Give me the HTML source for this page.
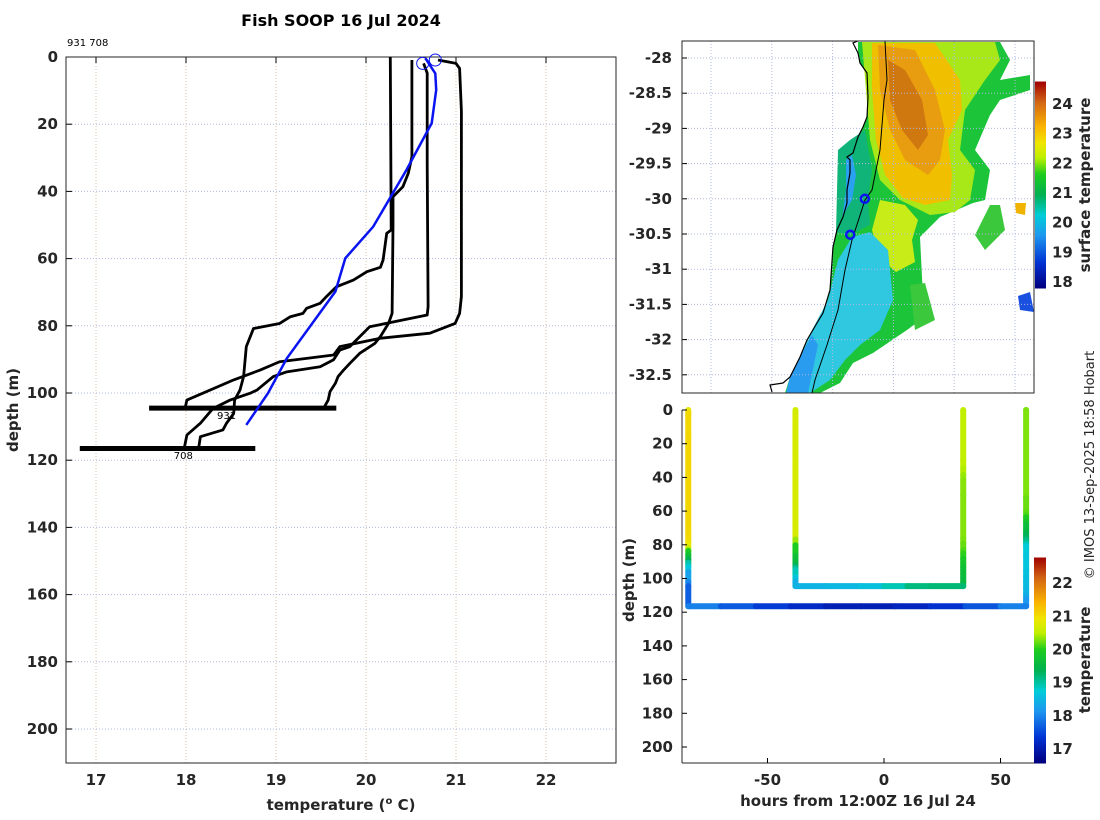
<!DOCTYPE html>
<html><head><meta charset="utf-8">
<style>
html,body{margin:0;padding:0;background:#fff;}
svg{display:block;font-family:"DejaVu Sans","Liberation Sans",sans-serif;}
.tk{font-size:15px;font-weight:bold;fill:#262626;}
.lb{font-size:15px;font-weight:bold;fill:#262626;}
</style></head>
<body>
<svg id="fig" width="1100" height="820" viewBox="0 0 1100 820" xmlns="http://www.w3.org/2000/svg">
<text x="341" y="26" text-anchor="middle" style="font-size:16px;font-weight:bold;fill:#000">Fish SOOP 16 Jul 2024</text>
<text x="67" y="46" style="font-size:10px;fill:#000">931 708</text>
<g id="left"></g>
<g id="map"></g>
<g id="bot"></g>
<text transform="translate(1094,465) rotate(-90)" text-anchor="middle" style="font-size:13px;fill:#262626">© IMOS 13-Sep-2025 18:58 Hobart</text>
</svg>
<script>
// ---- profile data (temperature degC, depth m) ----
const profA_T=[20.27,20.28,20.23,20.19,20.16,20.01,19.86,19.67,19.56,19.49,19.34,19.30,19.16,19.04,18.75,18.67,18.64,18.60,18.54,18.53,18.45,18.41,18.16,18.14];
const profA_D=[0,51.5,52.5,60.4,62.6,63.9,66.4,68.4,71.3,73.3,74.8,76.3,77.3,79.3,80.8,86.2,95.1,99.1,102.1,106.1,109.0,111.0,113.0,116.5];
const profB_T=[20.51,20.51,20.47,20.41,20.30,20.30,20.29,20.25,20.16,20.10,19.93,19.82,19.75,19.69,19.66,19.60,19.58,19.53];
const profB_D=[0.9,29.7,34.6,38.6,41.6,50.5,76.3,79.3,83.2,85.2,88.2,91.2,93.2,95.1,97.1,99.6,102.1,104.5];
const profC_T=[20.64,20.68,20.68,20.69,20.68,20.04,19.82,19.71,19.64,19.49,19.12,18.97,18.79,18.71,18.49,18.30,18.16,18.01,17.98];
const profC_D=[1.9,4.8,31.6,74.3,76.8,80.3,86.2,87.2,90.1,92.2,93.7,95.1,99.1,100.1,102.1,104.6,109.0,112.5,116.5];
const profD_T=[20.80,21.00,21.04,21.06,21.06,21.04,20.99,20.71,20.16,19.71,19.64,19.04,18.82,18.53,18.01,17.99];
const profD_D=[0.9,1.9,3.4,16,71.3,76.3,79.3,82.2,83.7,86.2,88.7,90.7,93.2,96.1,102.1,104.5];
const blue_T=[20.66,20.77,20.78,20.73,20.45,20.08,19.77,19.66,19.12,18.91,18.67];
const blue_D=[0.4,4.9,9.8,19.7,33.6,50.5,59.9,69.8,89.7,100.1,109.5];
const circle_T=[20.63,20.77];
const circle_D=[1.9,0.9];
const smear_D=[104.5,116.5];
const smear_Tmin=[17.59,16.82];
const smear_Tmax=[19.67,18.77];
const castLabels=["931","708"];
const castLabel_T=[18.45,17.97];
const castLabel_D=[106.5,118.5];
const xTicksL=[17,18,19,20,21,22];
const yTicks=[0,20,40,60,80,100,120,140,160,180,200];
// ---- section data ----
const castHours=[-84,-38,34,61];
const castOrder=["D","C","B","A"];
const castEnd=[116.5,104.5,104.5,116.5];
const tow1_H=[-84,-70,-55,-40,-25,-10,5,20,35,50,61];
const tow1_T=[18.1,17.8,17.5,17.3,17.1,17.0,17.1,17.2,17.4,17.8,18.1];
const tow1_D=116.5;
const tow2_H=[-38,-25,-10,0,10,20,34];
const tow2_T=[18.4,18.5,18.5,18.7,19.1,19.2,19.2];
const tow2_D=104.5;
const xTicksB=[-50,0,50];
const cbTicksB=[17,18,19,20,21,22];
// ---- map data ----
const latTicks=[-28,-28.5,-29,-29.5,-30,-30.5,-31,-31.5,-32,-32.5];
const lonTicks=[151,152,153,154,155,156];
const stn_lon=[153.53,153.29];
const stn_lat=[-30.0,-30.51];
const cbTicksM=[18,19,20,21,22,23,24];

const NS="http://www.w3.org/2000/svg";
function el(parent,tag,attrs,txt){const e=document.createElementNS(NS,tag);for(const k in attrs)e.setAttribute(k,attrs[k]);if(txt!==undefined)e.textContent=txt;parent.appendChild(e);return e;}
function cmap(v){
  const st=[[0,[0,0,128]],[0.12,[0,50,210]],[0.25,[30,150,240]],[0.35,[0,205,215]],[0.45,[0,176,80]],[0.55,[30,205,30]],[0.63,[190,240,0]],[0.70,[240,230,0]],[0.78,[250,180,0]],[0.9,[210,100,20]],[1,[160,0,0]]];
  v=Math.max(0,Math.min(1,v));
  for(let i=1;i<st.length;i++){if(v<=st[i][0]){const a=st[i-1],b=st[i],f=(v-a[0])/(b[0]-a[0]);const c=a[1].map((x,j)=>Math.round(x+(b[1][j]-x)*f));return `rgb(${c[0]},${c[1]},${c[2]})`;}}
  return "rgb(160,0,0)";
}
// ================= LEFT PLOT =================
const L=document.getElementById('left');
const xL=t=>96+(t-17)*90, yL=d=>57+d*3.36;
for(const t of xTicksL){
  const g=el(L,'line',{x1:xL(t),x2:xL(t),y1:57,y2:763,stroke:'#d8c0a8','stroke-dasharray':'1,2','stroke-width':1});
  
  
  const tk=el(L,'line',{x1:xL(t),x2:xL(t),y1:57,y2:63,stroke:'#000'});
  
  
  const lb=el(L,'text',{x:xL(t),y:785,'text-anchor':'middle',class:'tk'},String(t));
  
  
}
for(const d of yTicks){
  const g=el(L,'line',{x1:66,x2:616,y1:yL(d),y2:yL(d),stroke:'#b0b8e0','stroke-dasharray':'1,2','stroke-width':1});
  
  
  const tk=el(L,'line',{x1:66,x2:72,y1:yL(d),y2:yL(d),stroke:'#000'});
  
  
  const lb=el(L,'text',{x:58,y:yL(d)+5,'text-anchor':'end',class:'tk'},String(d));
  
  
}
const bx=el(L,'rect',{x:66,y:57,width:550,height:706,fill:'none',stroke:'#262626','stroke-width':1});


const profiles={A:[profA_T,profA_D],B:[profB_T,profB_D],C:[profC_T,profC_D],D:[profD_T,profD_D]};
for(const k in profiles){
  const [T,D]=profiles[k];
  const p=el(L,'polyline',{points:T.map((t,i)=>xL(t)+','+yL(D[i])).join(' '),fill:'none',stroke:'#000','stroke-width':2.8,'stroke-linejoin':'round'});
  
  
}
for(let i=0;i<smear_D.length;i++){
  const s=el(L,'line',{x1:xL(smear_Tmin[i]),x2:xL(smear_Tmax[i]),y1:yL(smear_D[i]),y2:yL(smear_D[i]),stroke:'#000','stroke-width':5});
  
  
  const t=el(L,'text',{x:xL(castLabel_T[i]),y:yL(castLabel_D[i])+4,'text-anchor':'middle',style:'font-size:10px;fill:#000'},castLabels[i]);
  
  
}
const bl=el(L,'polyline',{points:blue_T.map((t,i)=>xL(t)+','+yL(blue_D[i])).join(' '),fill:'none',stroke:'#0a14f0','stroke-width':2.5});


for(let i=0;i<circle_T.length;i++){
  const c=el(L,'circle',{cx:xL(circle_T[i]),cy:yL(circle_D[i]),r:6,fill:'none',stroke:'#0a14f0','stroke-width':1});
  
  
}
const xt=el(L,'text',{x:341,y:810,'text-anchor':'middle',class:'lb'});


xt.innerHTML='temperature (<tspan dy="-6" style="font-size:10px">o</tspan><tspan dy="6"> C)</tspan>';
const yt=el(L,'text',{transform:'translate(18,410) rotate(-90)','text-anchor':'middle',class:'lb'},'depth (m)');



// ================= MAP =================
const M=document.getElementById('map');
const xM=lo=>711+(lo-151)*60.8, yM=la=>58+(-28-la)*70.4;
for(const lo of lonTicks){
  const lb=el(M,'text',{x:xM(lo),y:424,'text-anchor':'middle',class:'tk'},String(lo));
  
  
}
const sstShapes=[
 ['#1cc43a','858,42 1000,42 1010,60 1000,80 1030,75 1030,90 1000,100 990,115 975,150 990,170 985,200 973,203 940,217 920,237 923,297 930,313 907,330 873,353 853,363 840,383 820,393 785,393 790,377 800,357 807,340 817,323 823,313 830,290 833,247 837,230 843,217 847,203 847,190 850,173 850,160 853,153 858,137 863,127 867,117 868,97 867,73 860,63 858,53'],
 ['#a8e818','862,42 995,42 1000,60 985,80 965,110 960,150 975,170 970,200 955,212 930,215 900,200 880,180 870,140 866,90'],
 ['#f0c000','872,43 935,43 960,80 962,110 948,140 952,175 950,200 925,205 903,198 885,175 876,140 872,90'],
 ['#e89c10','878,45 915,50 935,90 945,130 940,160 928,175 905,160 890,130 880,90'],
 ['#d07810','888,60 905,70 922,100 928,135 918,150 902,130 890,100'],
 ['#10b478','838,150 850,140 865,130 872,170 868,200 870,225 850,235 836,232'],
 ['#c8ec18','880,200 905,205 918,220 912,240 915,262 896,272 880,258 872,230'],
 ['#30c8e0','852,237 870,232 888,250 893,300 880,330 860,345 845,360 830,380 810,393 792,393 800,357 812,330 828,300 838,260'],
 ['#2aa0f0','846,160 852,155 856,175 852,200 846,210 842,220 846,190'],
 ['#2a9cf0','800,357 812,335 818,345 808,393 786,393 790,377'],
 ['#3cc83c','990,205 1000,205 1005,230 985,250 975,235'],
 ['#3cc83c','910,285 925,283 935,320 915,330'],
 ['#1a50e0','1018,296 1030,292 1034,312 1020,310'],
 ['#f0b400','1015,203 1026,203 1025,215 1016,213']
];
for(const [c,pts] of sstShapes){
  const p=el(M,'polygon',{points:pts,fill:c});
  
  
}
for(const la of latTicks){
  const g=el(M,'line',{x1:682,x2:1034,y1:yM(la),y2:yM(la),stroke:'#b0b8e0','stroke-dasharray':'1,2'});
  
  
  const lb=el(M,'text',{x:672,y:yM(la)+5,'text-anchor':'end',class:'tk'},String(la));
  
  
  const tk=el(M,'line',{x1:682,x2:687,y1:yM(la),y2:yM(la),stroke:'#000'});
  
  
}
for(const lo of lonTicks){
  const g=el(M,'line',{x1:xM(lo),x2:xM(lo),y1:41,y2:393,stroke:'#b0b8e0','stroke-dasharray':'1,2'});
  
  
}
const coast=el(M,'polyline',{points:'858,41 853,43 858,53 860,63 867,73 868,97 867,117 863,127 858,137 853,153 847,157 850,160 850,173 847,190 847,203 843,217 837,230 833,247 830,290 823,313 817,323 807,340 800,357 790,377 783,383 770,385 772,392',fill:'none',stroke:'#000','stroke-width':1.2});


const iso=el(M,'polyline',{points:'885,41 887,80 884,100 880,150 872,190 865,200 852,240 845,270 838,310 827,345 815,380 812,393',fill:'none',stroke:'#000','stroke-width':1});


for(let i=0;i<stn_lon.length;i++){
  const c=el(M,'circle',{cx:xM(stn_lon[i]),cy:yM(stn_lat[i]),r:4,fill:'none',stroke:'#0a14f0','stroke-width':2.5});
  
  
}
const mf=el(M,'rect',{x:682,y:41,width:352,height:352,fill:'none',stroke:'#262626'});


const cbM0=17.8,cbM1=24.74,ycbM=v=>288-(v-cbM0)*(206/(cbM1-cbM0));
for(let i=0;i<103;i++){
  const v=cbM0+(cbM1-cbM0)*i/103;
  const r=el(M,'rect',{x:1035,y:ycbM(v+(cbM1-cbM0)/103)-0.5,width:11,height:3,fill:cmap(i/103)});
  
  
}
for(const v of cbTicksM){
  const lb=el(M,'text',{x:1052,y:ycbM(v)+5,class:'tk'},String(v));
  
  
}
const ml=el(M,'text',{transform:'translate(1090,185) rotate(-90)','text-anchor':'middle',class:'lb'},'surface temperature');



// ================= SECTION =================
const B=document.getElementById('bot');
const xB=h=>884+h*2.33, yB=d=>410+d*1.685;
const bg=el(B,'rect',{x:677,y:409,width:358,height:355,fill:'#fff'});


const cb0=16.58,cb1=22.76,col=v=>cmap((v-cb0)/(cb1-cb0));
function seg(x1,y1,x2,y2,v,name){
  const s=el(B,'line',{x1:x1,y1:y1,x2:x2,y2:y2,stroke:col(v),'stroke-width':6,'stroke-linecap':'round'});
  
  
}
for(let c=0;c<castHours.length;c++){
  const [T,D]=profiles[castOrder[c]];
  const x=xB(castHours[c]);
  seg(x,yB(0),x,yB(D[0]),T[0],'cast-segment');
  for(let i=0;i<T.length-1;i++){
    if(D[i]>=castEnd[c]) break;
    seg(x,yB(D[i]),x,yB(Math.min(D[i+1],castEnd[c])),(T[i]+T[i+1])/2,'cast-segment');
  }
  if(D[D.length-1]<castEnd[c]) seg(x,yB(D[D.length-1]),x,yB(castEnd[c]),T[T.length-1]-0.3,'cast-segment');
}
for(let i=0;i<tow1_H.length-1;i++) seg(xB(tow1_H[i]),yB(tow1_D),xB(tow1_H[i+1]),yB(tow1_D),(tow1_T[i]+tow1_T[i+1])/2,'tow-deep');
for(let i=0;i<tow2_H.length-1;i++) seg(xB(tow2_H[i]),yB(tow2_D),xB(tow2_H[i+1]),yB(tow2_D),(tow2_T[i]+tow2_T[i+1])/2,'tow-shallow');
const ax1=el(B,'line',{x1:682,x2:682,y1:410,y2:763,stroke:'#262626'});


const ax2=el(B,'line',{x1:682,x2:1034,y1:763,y2:763,stroke:'#262626'});


for(const d of yTicks){
  const lb=el(B,'text',{x:673,y:yB(d)+5,'text-anchor':'end',class:'tk'},String(d));
  
  
  const tk=el(B,'line',{x1:682,x2:687,y1:yB(d),y2:yB(d),stroke:'#000'});
  
  
}
for(const h of xTicksB){
  const lb=el(B,'text',{x:xB(h),y:785,'text-anchor':'middle',class:'tk'},String(h));
  
  
  const tk=el(B,'line',{x1:xB(h),x2:xB(h),y1:758,y2:763,stroke:'#000'});
  
  
}
const bxt=el(B,'text',{x:858,y:806,'text-anchor':'middle',class:'lb'},'hours from 12:00Z 16 Jul 24');


const byt=el(B,'text',{transform:'translate(634,580) rotate(-90)','text-anchor':'middle',class:'lb'},'depth (m)');


const ycbB=v=>763-(v-cb0)*(205/(cb1-cb0));
for(let i=0;i<103;i++){
  const v=cb0+(cb1-cb0)*i/103;
  const r=el(B,'rect',{x:1034,y:ycbB(v+(cb1-cb0)/103)-0.5,width:12,height:3,fill:cmap(i/103)});
  
  
}
for(const v of cbTicksB){
  const lb=el(B,'text',{x:1052,y:ycbB(v)+5,class:'tk'},String(v));
  
  
}
const bct=el(B,'text',{transform:'translate(1090,660) rotate(-90)','text-anchor':'middle',class:'lb'},'temperature');


</script>
</body></html>
